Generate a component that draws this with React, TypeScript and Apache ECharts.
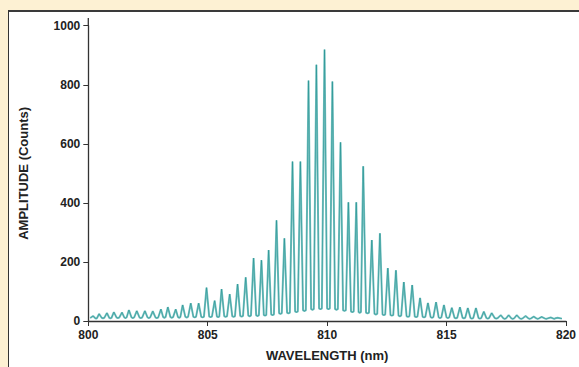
import React, { useEffect, useRef } from "react";
import * as echarts from "echarts";

// Peak positions (nm) and peak amplitudes (counts)
const peakWavelength = [
  800.2, 800.45, 800.78, 801.07, 801.41, 801.7, 802.03, 802.37, 802.7, 803.04,
  803.33, 803.66, 803.95, 804.29, 804.62, 804.95, 805.29, 805.58, 805.92, 806.25,
  806.59, 806.92, 807.25, 807.55, 807.88, 808.21, 808.55, 808.88, 809.22, 809.55,
  809.89, 810.22, 810.56, 810.89, 811.22, 811.51, 811.87, 812.21, 812.54, 812.88,
  813.21, 813.56, 813.89, 814.22, 814.56, 814.89, 815.22, 815.56, 815.89, 816.23,
  816.56, 816.89, 817.27, 817.6, 817.94, 818.31, 818.65, 818.98, 819.36, 819.65,
];
const peakAmplitude = [
  17, 24, 27, 30, 29, 37, 34, 34, 33, 40,
  47, 40, 54, 60, 60, 113, 69, 108, 91, 125,
  148, 213, 206, 240, 341, 280, 540, 540, 814, 868,
  919, 811, 605, 402, 402, 524, 274, 297, 179, 172,
  132, 122, 78, 61, 64, 54, 45, 47, 44, 44,
  32, 27, 20, 20, 20, 17, 15, 14, 12, 11,
];
// Minima between consecutive peaks
const valleyAmplitude = [
  8, 9, 9, 10, 10, 10, 10, 10, 10, 11, 11, 11, 12, 12, 12,
  13, 13, 14, 14, 15, 16, 17, 18, 20,
  24, 26, 30, 34, 38, 40, 40, 38, 34, 30, 28, 26,
  22, 20, 18, 16, 14, 13, 12, 11, 10, 10,
  9, 9, 8, 8, 8, 8, 7, 7, 7, 7, 7, 7, 7,
];
const startPoint = [800.08, 10];
const endPoint = [819.83, 8];

const xTicks = { min: 800, max: 820, interval: 5 };
const yTicks = { min: 0, max: 1000, interval: 200 };

function buildSpectrum(): number[][] {
  const pts: number[][] = [startPoint];
  for (let i = 0; i < peakWavelength.length; i++) {
    pts.push([peakWavelength[i], peakAmplitude[i]]);
    if (i < valleyAmplitude.length && i + 1 < peakWavelength.length) {
      const a = peakWavelength[i];
      const b = peakWavelength[i + 1];
      // valley floor spans the middle of the gap between two peaks
      pts.push([a + (b - a) * 0.33, valleyAmplitude[i] + 2]);
      pts.push([a + (b - a) * 0.5, valleyAmplitude[i]]);
      pts.push([a + (b - a) * 0.67, valleyAmplitude[i] + 2]);
    }
  }
  pts.push(endPoint);
  return pts;
}

export default function App() {
  const ref = useRef<HTMLDivElement>(null);
  useEffect(() => {
    document.body.style.margin = "0";
    if (!ref.current) return;
    const chart = echarts.init(ref.current, null, { renderer: "svg" });
    const data = buildSpectrum();
    const font = {
      fontFamily: "'Liberation Sans', Arial, sans-serif",
      fontWeight: "bold" as const,
      fontSize: 12,
      color: "#222",
    };
    chart.setOption({
      animation: false,
      backgroundColor: "transparent",
      grid: { left: 88.3, right: 11.7, top: 25.7, bottom: 45.3, containLabel: false },
      xAxis: {
        type: "value",
        min: xTicks.min,
        max: xTicks.max,
        interval: xTicks.interval,
        name: "WAVELENGTH (nm)",
        nameLocation: "middle",
        nameGap: 28,
        nameTextStyle: { ...font, fontSize: 13 },
        axisLine: { show: true, onZero: false, lineStyle: { color: "#333", width: 1.3 } },
        axisTick: { show: true, length: 5, lineStyle: { color: "#333", width: 1 } },
        axisLabel: { ...font, margin: 8, formatter: (v: number) => String(v) },
        splitLine: { show: false },
      },
      yAxis: {
        type: "value",
        min: yTicks.min,
        max: yTicks.max,
        interval: yTicks.interval,
        name: "AMPLITUDE (Counts)",
        nameLocation: "middle",
        nameGap: 58,
        nameRotate: 90,
        nameTextStyle: { ...font, fontSize: 13 },
        axisLine: { show: true, onZero: false, lineStyle: { color: "#333", width: 1.3 } },
        axisTick: { show: true, length: 5, lineStyle: { color: "#333", width: 1 } },
        axisLabel: { ...font, margin: 8, formatter: (v: number) => String(v) },
        splitLine: { show: false },
      },
      graphic: [
        {
          type: "line",
          shape: { x1: 88.3, y1: 18, x2: 88.3, y2: 26 },
          style: { stroke: "#333", lineWidth: 1.3 },
        },
      ],
      series: [
        {
          type: "line",
          data,
          symbol: "none",
          lineStyle: { color: "#7cc4c3", width: 2 },
          z: 2,
        },
        {
          type: "line",
          data,
          symbol: "none",
          lineStyle: { color: "#168a8a", width: 0.6, opacity: 0.85 },
          z: 3,
        },
      ],
    });
    return () => chart.dispose();
  }, []);
  return (
    <div style={{ position: "relative", width: 579, height: 367, background: "#fdf1d3", overflow: "hidden" }}>
      <div
        style={{
          position: "absolute",
          left: 8,
          top: 10,
          right: 0,
          bottom: 0,
          background: "#ffffff",
          borderTop: "2px solid #3a3a3a",
          borderLeft: "1.5px solid #333",
        }}
      />
      <div ref={ref} style={{ position: "absolute", left: 0, top: 0, width: 579, height: 367 }} />
    </div>
  );
}
